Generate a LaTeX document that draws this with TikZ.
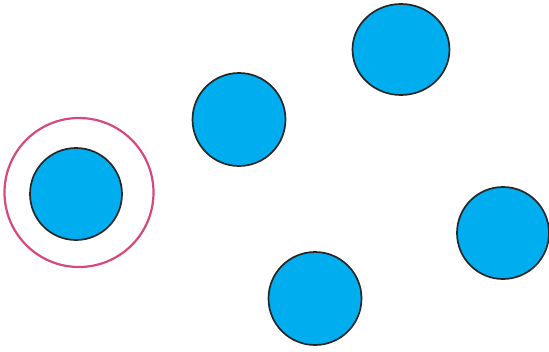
\documentclass[tikz,border=0pt]{standalone}
\usepackage{xcolor}
\definecolor{dotblue}{RGB}{0,174,239}
\definecolor{ringpink}{RGB}{214,72,128}
\begin{document}
\begin{tikzpicture}[x=1pt,y=-1pt,
  dot/.style={draw=black!85,line width=1.7pt,fill=dotblue},
  ring/.style={draw=ringpink,line width=2.2pt}]
\useasboundingbox (0,0) rectangle (549,351);
\draw[ring] (79,192.5) circle (74.5);
\path[dot] (76,194) coordinate (a) circle (46);
\path[dot] (239,119.5) coordinate (b) circle (46.5);
\path[dot] (401,49.5) coordinate (c) ellipse [x radius=48.5,y radius=45.5];
\path[dot] (503,233) coordinate (d) circle (46);
\path[dot] (315,298.5) coordinate (e) circle (46.5);
\end{tikzpicture}
\end{document}
